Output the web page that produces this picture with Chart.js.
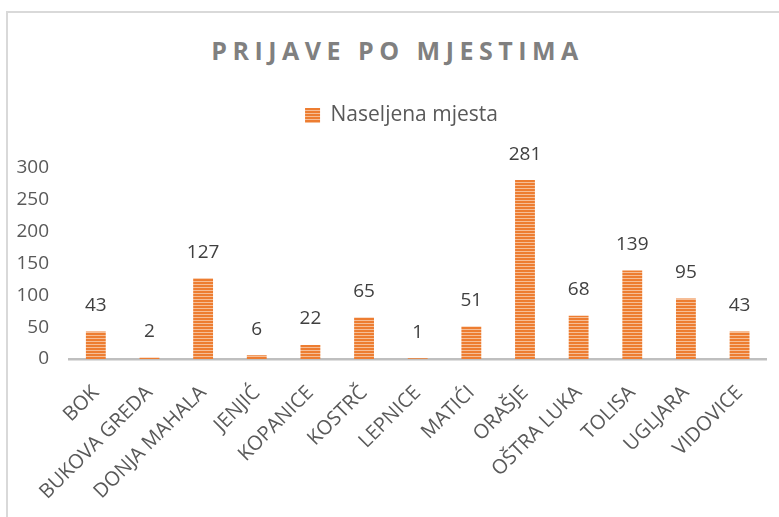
<!DOCTYPE html>
<html>
<head>
<meta charset="utf-8">
<script src="https://cdn.jsdelivr.net/npm/chart.js@4"></script>
<style>
    html, body { margin: 0; padding: 0; background: #fff; overflow: hidden; }
    #wrap { position: relative; width: 779px; height: 517px; overflow: hidden; }
    #frame { position: absolute; left: 6px; top: 11px; width: 900px; height: 700px; border: 2px solid #D9D9D9; box-sizing: border-box; }
    #title {
        position: absolute; left: 0; top: 35px; width: 795px; text-align: center;
        font: bold 25px "Open Sans", sans-serif; line-height: 30px;
        letter-spacing: 5.5px; color: #808080;
    }
    #chart { position: absolute; left: 0; top: 0; }
</style>
</head>
<body>
<div id="wrap">
    <div id="frame"></div>
    <div id="title">PRIJAVE PO MJESTIMA</div>
    <canvas id="chart" width="779" height="517"></canvas>
</div>
<script>
// Prijave po mjestima - bar chart

const CATEGORIES = [
    'BOK', 'BUKOVA GREDA', 'DONJA MAHALA', 'JENJIĆ', 'KOPANICE', 'KOSTRČ', 'LEPNICE',
    'MATIĆI', 'ORAŠJE', 'OŠTRA LUKA', 'TOLISA', 'UGLJARA', 'VIDOVICE'
];
const SERIES_NAME = 'Naseljena mjesta';
const VALUES = [43, 2, 127, 6, 22, 65, 1, 51, 281, 68, 139, 95, 43];
const Y_TICKS = [0, 50, 100, 150, 200, 250, 300];

const FONT = '"Open Sans", sans-serif';

function makeStripes() {
    // narrow horizontal stripes, like the Excel pattern fill
    const c = document.createElement('canvas');
    c.width = 4;
    c.height = 3;
    const g = c.getContext('2d');
    g.fillStyle = '#ED7D31';
    g.fillRect(0, 0, 4, 2);
    g.fillStyle = '#F6BE96';
    g.fillRect(0, 2, 4, 1);
    return g.createPattern(c, 'repeat');
}

// draws the value above each bar
const valueLabels = {
    id: 'valueLabels',
    afterDatasetsDraw(chart) {
        const ctx = chart.ctx;
        const meta = chart.getDatasetMeta(0);
        ctx.save();
        ctx.font = '19px ' + FONT;
        ctx.fillStyle = '#404040';
        ctx.textAlign = 'center';
        ctx.textBaseline = 'middle';
        meta.data.forEach((bar, i) => {
            ctx.fillText(String(VALUES[i]), bar.x, bar.y - 26);
        });
        ctx.restore();
    }
};

// extra room under the legend, and legend nudged right a bit
const legendGap = {
    id: 'legendGap',
    beforeInit(chart) {
        const origFit = chart.legend.fit;
        chart.legend.fit = function () {
            origFit.bind(chart.legend)();
            this.height += 32;
        };
    },
    afterLayout(chart) {
        chart.legend.left += 26;
    }
};

const stripes = makeStripes();

new Chart(document.getElementById('chart').getContext('2d'), {
    type: 'bar',
    data: {
        labels: CATEGORIES,
        datasets: [{
            label: SERIES_NAME,
            data: VALUES,
            backgroundColor: stripes,
            borderWidth: 0,
            barPercentage: 0.37,
            categoryPercentage: 1
        }]
    },
    options: {
        responsive: false,
        animation: false,
        layout: { padding: { top: 97, left: 10, right: 12, bottom: 0 } },
        scales: {
            x: {
                afterCalculateLabelRotation(scale) {
                    scale.labelRotation = 45;
                },
                afterFit(scale) {
                    scale.height = 158;
                },
                grid: { display: false, drawTicks: false },
                border: { display: true, color: '#BFBFBF', width: 2.5 },
                ticks: {
                    color: '#595959',
                    font: { family: FONT, size: 20 },
                    maxRotation: 45,
                    minRotation: 45,
                    autoSkip: false,
                    padding: 22
                }
            },
            y: {
                min: 0,
                max: 300,
                afterBuildTicks(scale) {
                    scale.ticks = Y_TICKS.map(v => ({ value: v }));
                },
                afterFit(scale) {
                    scale.width = 59;
                },
                grid: { display: false, drawTicks: false },
                border: { display: false },
                ticks: {
                    color: '#595959',
                    font: { family: FONT, size: 19 },
                    padding: 20
                }
            }
        },
        plugins: {
            legend: {
                display: true,
                position: 'top',
                labels: {
                    color: '#595959',
                    font: { family: FONT, size: 21 },
                    boxWidth: 15,
                    boxHeight: 15,
                    padding: 8
                }
            },
            tooltip: { enabled: false }
        }
    },
    plugins: [valueLabels, legendGap]
});
</script>
</body>
</html>
